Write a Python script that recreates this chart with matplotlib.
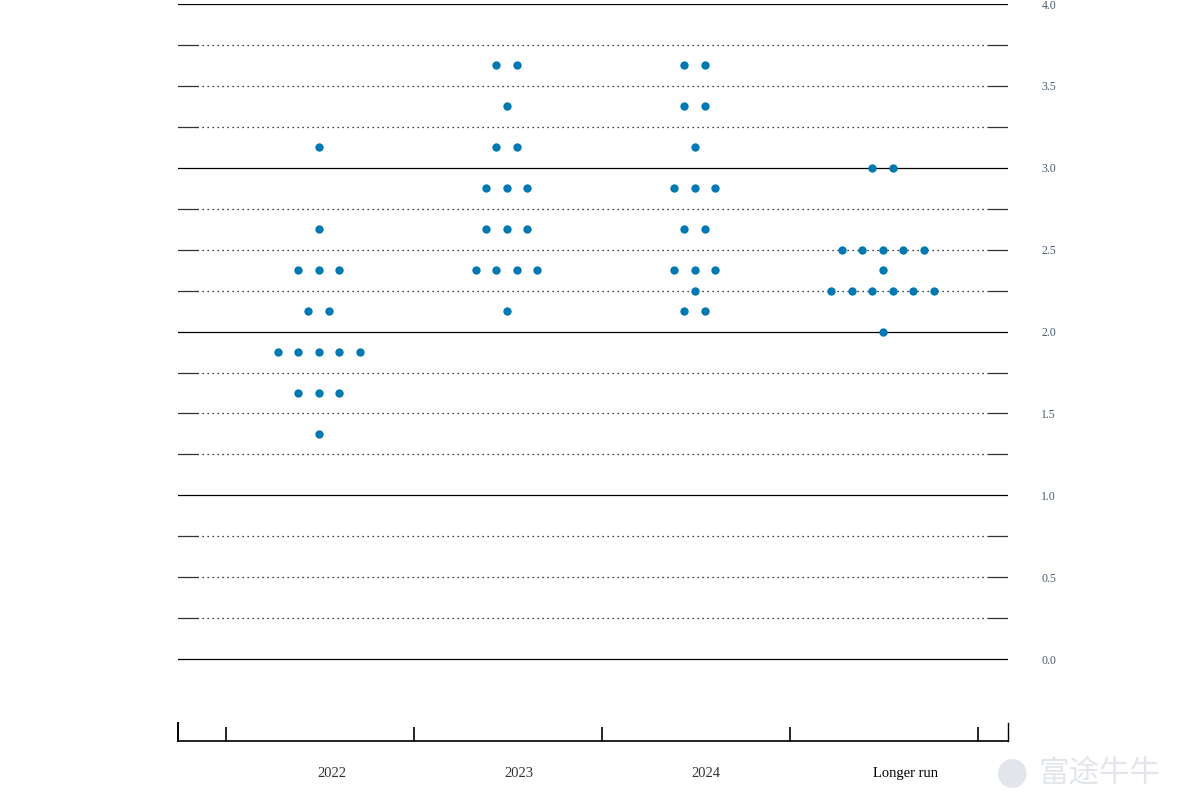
import numpy as np
import matplotlib
matplotlib.use('Agg')
import matplotlib.pyplot as plt


CATEGORIES = ['2022', '2023', '2024', 'Longer run']

RATES_2022 = [3.125, 2.625, 2.375, 2.125, 1.875, 1.625, 1.375]
COUNTS_2022 = [1, 1, 3, 2, 5, 3, 1]

RATES_2023 = [3.625, 3.375, 3.125, 2.875, 2.625, 2.375, 2.125]
COUNTS_2023 = [2, 1, 2, 3, 3, 4, 1]

RATES_2024 = [3.625, 3.375, 3.125, 2.875, 2.625, 2.375, 2.25, 2.125]
COUNTS_2024 = [2, 2, 1, 3, 2, 3, 1, 2]

RATES_LONGER = [3.0, 2.5, 2.375, 2.25, 2.0]
COUNTS_LONGER = [2, 5, 1, 6, 1]

Y_TICKS = [0.0, 0.5, 1.0, 1.5, 2.0, 2.5, 3.0, 3.5, 4.0]

DOT_COLOR = '#0079B3'
DOT_STEP = 0.109


def dots_for_group(center, rates, counts):
    xs, ys = [], []
    for rate, n in zip(rates, counts):
        for i in range(n):
            xs.append(center + (i - (n - 1) / 2) * DOT_STEP)
            ys.append(rate)
    return xs, ys


def main():
    plt.rcParams['font.family'] = ['Liberation Serif', 'DejaVu Serif']
    fig = plt.figure(figsize=(11.83, 8.09), dpi=100)
    ax = fig.add_axes([0.1505, 0.0841, 0.7016, 0.9109])
    ax.set_xlim(0.245, 4.66)
    ax.set_ylim(-0.5, 4.0)

    # horizontal guide lines every quarter point
    edge = 19 / 830
    for level in np.arange(0, 4.01, 0.25):
        if level % 1 == 0:
            ax.axhline(level, color='black', lw=0.9, zorder=1)
        else:
            ax.axhline(level, xmin=edge, xmax=1 - edge, color='black', lw=0.9,
                       linestyle=(0, (1, 3)), zorder=1)
            ax.axhline(level, xmin=0, xmax=edge, color='#333333', lw=0.9, zorder=1)
            ax.axhline(level, xmin=1 - edge, xmax=1, color='#333333', lw=0.9, zorder=1)

    groups = [(RATES_2022, COUNTS_2022), (RATES_2023, COUNTS_2023),
              (RATES_2024, COUNTS_2024), (RATES_LONGER, COUNTS_LONGER)]
    for k, (rates, counts) in enumerate(groups):
        xs, ys = dots_for_group(k + 1 - 0.007, rates, counts)
        ax.scatter(xs, ys, s=36, color=DOT_COLOR, zorder=3, linewidths=0)

    # bottom axis with inward ticks between groups
    ax.spines['top'].set_visible(False)
    ax.spines['bottom'].set_linewidth(1.2)
    ax.spines['left'].set_bounds(-0.5, -0.39)
    ax.spines['right'].set_bounds(-0.5, -0.39)
    ax.spines['left'].set_linewidth(1.4)
    ax.spines['right'].set_linewidth(1.0)

    ax.set_xticks([0.5, 1.5, 2.5, 3.5, 4.5])
    ax.set_xticklabels([])
    ax.tick_params(axis='x', which='major', direction='in', length=10, width=1.2)
    ax.set_xticks([1.064, 2.059, 3.055, 4.115], minor=True)
    ax.set_xticklabels(CATEGORIES, minor=True)
    ax.tick_params(axis='x', which='minor', length=0, pad=19, labelsize=10.5)
    for lbl in ax.get_xticklabels(minor=True):
        lbl.set_color('#333333' if lbl.get_text() != 'Longer run' else 'black')

    ax.yaxis.tick_right()
    ax.set_yticks(Y_TICKS)
    ax.set_yticklabels([f'{v:.1f}' for v in Y_TICKS])
    ax.tick_params(axis='y', length=0, pad=24, labelsize=8.5, labelcolor='#4A5A70')

    # watermark
    fig.text(0.878, 0.045, '富途牛牛', fontsize=22, color='#E2E5EA',
             family=['Noto Sans CJK SC', 'DejaVu Sans'], ha='left', va='center')
    fig.text(0.842, 0.045, '●', fontsize=27, color='#E2E5EA', ha='left', va='center',
             family=['DejaVu Sans'])

    fig.savefig('out.png', dpi=100)


if __name__ == "__main__":
    main()
